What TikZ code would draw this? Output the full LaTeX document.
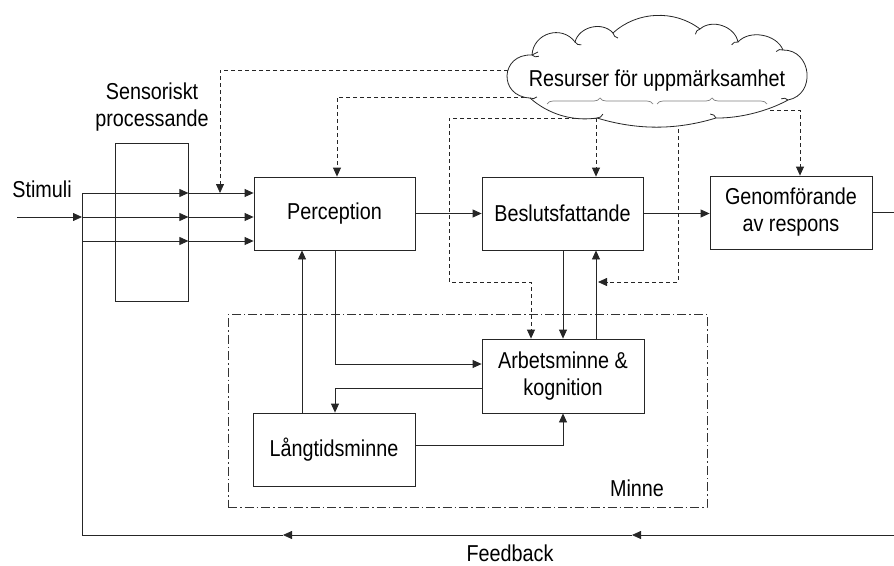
\documentclass[tikz,border=0pt]{standalone}
\usepackage{fontspec}
\setmainfont{Liberation Sans}[FakeStretch=0.86]
\usetikzlibrary{arrows.meta,decorations.pathreplacing,calc}
\pgfdeclarelayer{background}
\pgfsetlayers{background,main}
\begin{document}
\begin{tikzpicture}[x=1pt,y=-1pt,
  lbl/.style={font=\fontsize{23}{27}\selectfont, align=center, inner sep=0pt},
  box/.style={draw=black!85, line width=0.8pt, lbl},
  ln/.style={draw=black!85, line width=0.8pt},
  arr/.style={ln, -{Triangle[length=9pt,width=8pt]}},
  dsh/.style={dash pattern=on 4pt off 3pt},
  dashdot/.style={draw=black!80, line width=0.8pt, dash pattern=on 9pt off 3pt on 1.5pt off 3pt},
  cl/.style={draw=black!85, line width=0.8pt},
  brc/.style={draw=black!50, line width=0.7pt, decorate, decoration={brace, amplitude=6pt}}]
\useasboundingbox (0,0) rectangle (894,565);
% blocks
\node[box, minimum width=73pt, minimum height=158pt] (sens) at (151.5,222) {};
\node[lbl] (senslbl) at (152,107) {Sensoriskt\\processande};
\node[box, minimum width=161pt, minimum height=73pt] (perc) at (334.5,213.5) {Perception};
\node[box, minimum width=161pt, minimum height=73pt] (besl) at (562.5,213.5) {Beslutsfattande};
\node[box, minimum width=162pt, minimum height=73pt] (genom) at (791,212.5) {Genomförande\\av respons};
\node[box, minimum width=162pt, minimum height=74pt] (arb) at (563,376) {Arbetsminne \&\\kognition};
\node[box, minimum width=162pt, minimum height=73pt] (lang) at (334,449.5) {Långtidsminne};
\node[dashdot, minimum width=479pt, minimum height=193pt] (minne) at (467.5,410.5) {};
\node[lbl] (minnelbl) at (637,488) {Minne};
\node[lbl] (stim) at (42,189.5) {Stimuli};
\node[lbl] (fb) at (510,553) {Feedback};
% cloud outline
\coordinate (cc) at (657,78);
\coordinate (J1) at (532,55);
\coordinate (J2) at (575,42);
\coordinate (J3) at (613,33);
\coordinate (J4) at (700,29);
\coordinate (J5) at (738,42);
\coordinate (J6) at (783,50);
\coordinate (J7) at (788,100);
\coordinate (J8) at (716,118);
\coordinate (J9) at (597,118);
\coordinate (J10) at (530,98);
\path[cl, fill=white]
  (J1) to[bend left=70, looseness=1.25] (J2)
       to[bend left=62, looseness=1.05] (J3)
       to[bend left=40, looseness=0.95] (J4)
       to[bend left=60, looseness=1.02] (J5)
       to[bend left=58, looseness=0.96] (J6)
       to[bend left=85, looseness=1.47] (J7)
       to[bend left=15, looseness=0.8] (J8)
       to[bend left=17, looseness=0.9] (J9)
       to[bend left=25, looseness=0.9] (J10)
       to[bend left=90, looseness=1.9] (J1) -- cycle;
\foreach \j in {J1,J2,J3,J4,J5,J6,J7,J8,J9,J10}
  \draw[cl] (\j) to[bend right=35] ($(\j)!7pt!(cc)$);
\draw[cl] (J1) -- +(6,-3);
\node[lbl] (cloudlbl) at (657,81) {Resurser för uppmärksamhet};
\draw[brc] (547,104) -- (653,104);
\draw[brc] (657,104) -- (767,104);
% coordinates
\coordinate (in) at (17,217);
\coordinate (r1) at (82,193);
\coordinate (r2) at (82,217);
\coordinate (r3) at (82,241);
\coordinate (fbR) at (894,535);
\coordinate (fbA) at (632,535);
\coordinate (fbB) at (283,535);
\coordinate (fbL) at (82,535);
\coordinate (outR) at (894,212.5);
\coordinate (d1) at (220,193);
\coordinate (c1) at (515,70);
\coordinate (c2) at (525,97);
\coordinate (c3) at (597,118);
\coordinate (c4) at (596,118);
\coordinate (c5) at (678,115);
\coordinate (c6) at (770,110);
\coordinate (k1) at (449,282);
\coordinate (k2) at (598,282);
\coordinate (pt) at ($(perc.north)+(2.5,0)$);
\coordinate (at) at ($(arb.north)+(-32,0)$);
\coordinate (gt) at ($(genom.north)+(9,0)$);
\coordinate (u1) at ($(arb.north)+(33,0)$);
\coordinate (p1) at ($(perc.south)+(0.5,0)$);
\coordinate (l1) at ($(lang.north)+(-32,0)$);
% attention (dashed) connectors, behind the cloud
\begin{pgfonlayer}{background}
\draw[arr, dsh] (c1) -| (d1);
\draw[arr, dsh] (c2) -| (pt);
\draw[arr, dsh] (c3) -| (k1) -| (at);
\draw[arr, dsh] (c4) -- (c4 |- besl.north);
\draw[arr, dsh] (c5) |- (k2);
\draw[arr, dsh] (c6) -| (gt);
\end{pgfonlayer}
% stimuli and sensory
\draw[arr] (in) -- (r2);
\draw[ln] (r1) -- (fbL);
\draw[arr] (r1) -- (r1 -| sens.east);
\draw[arr] (r1 -| sens.east) -- (r1 -| perc.west);
\draw[arr] (r2) -- (r2 -| sens.east);
\draw[arr] (r2 -| sens.east) -- (r2 -| perc.west);
\draw[arr] (r3) -- (r3 -| sens.east);
\draw[arr] (r3 -| sens.east) -- (r3 -| perc.west);
% main chain
\draw[arr] (perc) -- (besl);
\draw[arr] (besl.east) -- (besl.east -| genom.west);
\draw[ln] (genom.east) -- (outR);
\draw[arr] (arb.north |- besl.south) -- (arb.north);
\draw[arr] (u1) -- (u1 |- besl.south);
% memory
\draw[arr] (p1) |- ($(arb.west)+(0,-12)$);
\draw[arr] ($(arb.west)+(0,12)$) -| ($(lang.north)+(1,0)$);
\draw[arr] (l1) -- (l1 |- perc.south);
\draw[arr] ($(lang.east)+(0,-4.5)$) -| (arb.south);
% feedback
\draw[arr] (fbR) -- (fbA);
\draw[arr] (fbA) -- (fbB);
\draw[ln] (fbB) -- (fbL);
\end{tikzpicture}
\end{document}
